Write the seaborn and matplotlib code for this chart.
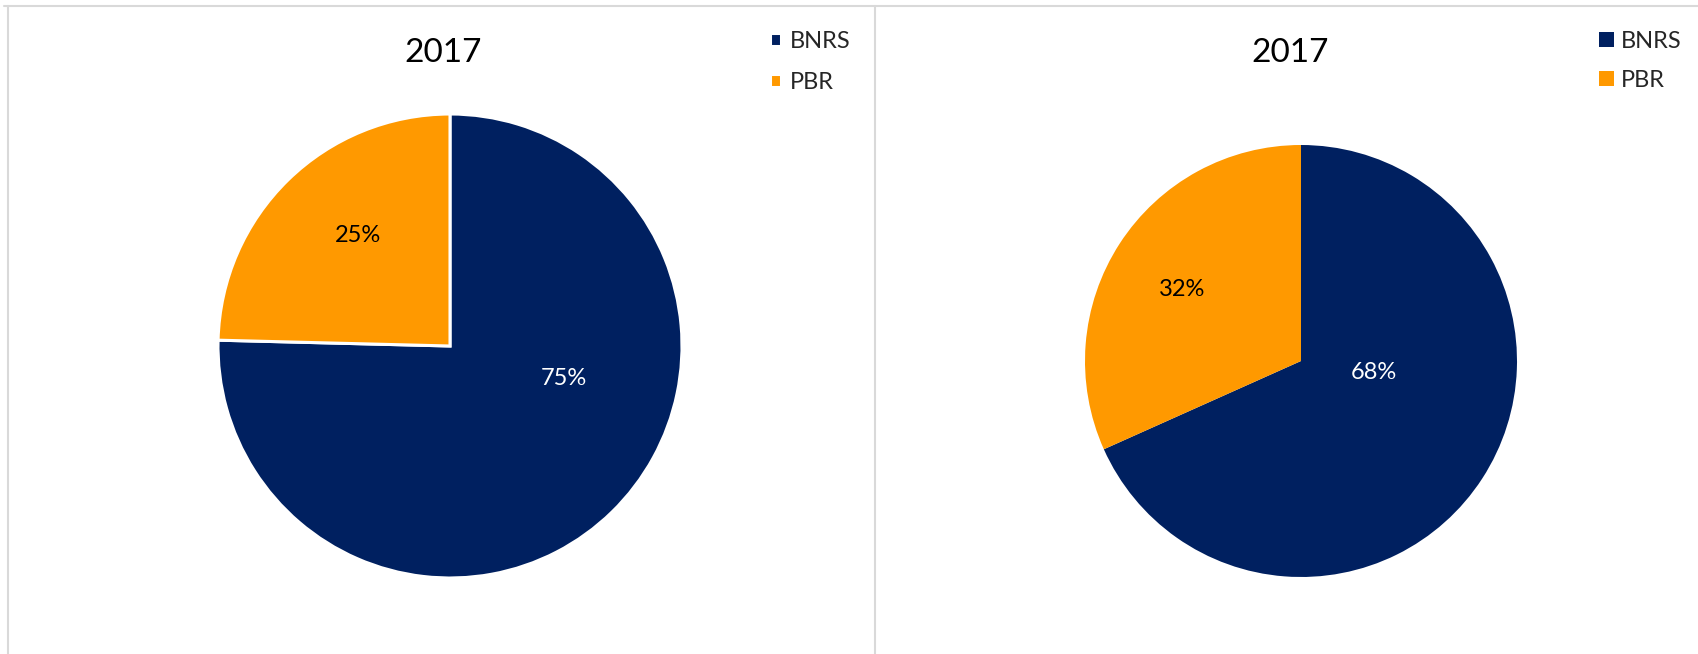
import matplotlib
matplotlib.use("Agg")
import matplotlib.pyplot as plt
from matplotlib.lines import Line2D
import numpy as np
import seaborn as sns

# Data (share of each category, in percent)
categories = ["BNRS", "PBR"]
left_values = [75.4, 24.6]
right_values = [68.3, 31.7]
titles = ["2017", "2017"]

sns.set_theme(style="white")
plt.rcParams['font.family'] = ['Lato', 'DejaVu Sans']

palette = sns.color_palette(["#002060", "#FF9900"])
label_colors = ["white", "black"]

W, H = 1699, 654
fig = plt.figure(figsize=(W / 100, H / 100), dpi=100)
fig.patch.set_facecolor("white")


def pie_axes(cx, cy, r):
    # axes box in pixel terms: centre (cx, cy) from top-left, radius r
    return fig.add_axes([(cx - r) / W, (H - cy - r) / H, 2 * r / W, 2 * r / H])


def draw_pie(ax, values, label_pos, edge_lw):
    wedges, _, autotexts = ax.pie(
        values, colors=palette, startangle=90, counterclock=False,
        autopct="%.0f%%", radius=1,
        wedgeprops=dict(edgecolor="white", linewidth=edge_lw),
        textprops=dict(fontsize=17),
    )
    for t, c, (dist, ang) in zip(autotexts, label_colors, label_pos):
        a = np.deg2rad(ang)
        t.set_position((dist * np.cos(a), dist * np.sin(a)))
        t.set_color(c)
    ax.set_xlim(-1.0, 1.0)
    ax.set_ylim(-1.0, 1.0)
    ax.axis("off")
    return wedges


# Left chart
ax1 = pie_axes(450, 346, 232)
w1 = draw_pie(ax1, left_values, [(0.51, -16), (0.62, 130)], 2.2)
fig.text(443.5 / W, 1 - 53 / H, titles[0], ha="center", va="center",
         fontsize=24, color="black")
fig.legend(w1, categories, loc="upper left",
           bbox_to_anchor=(770 / W, 1 - 31 / H), bbox_transform=fig.transFigure,
           frameon=False, fontsize=17, borderpad=0, borderaxespad=0,
           handlelength=0.45, handleheight=0.45, handletextpad=0.4,
           labelspacing=0.85)

# Right chart
ax2 = pie_axes(1301, 361, 216)
w2 = draw_pie(ax2, right_values, [(0.34, -9), (0.64, 149)], 0)
fig.text(1290 / W, 1 - 53 / H, titles[1], ha="center", va="center",
         fontsize=24, color="black")
fig.legend(w2, categories, loc="upper left",
           bbox_to_anchor=(1599 / W, 1 - 31 / H), bbox_transform=fig.transFigure,
           frameon=False, fontsize=17, borderpad=0, borderaxespad=0,
           handlelength=0.62, handleheight=0.62, handletextpad=0.3,
           labelspacing=0.75)

# panel borders
border = "#D9D9D9"
for xs, ys in [((4, W), (6, 6)), ((8, 8), (6, H)), ((875, 875), (6, H))]:
    fig.add_artist(Line2D([x / W for x in xs], [1 - y / H for y in ys],
                          transform=fig.transFigure, color=border, lw=1.5))

fig.savefig("out.png", dpi=100)
